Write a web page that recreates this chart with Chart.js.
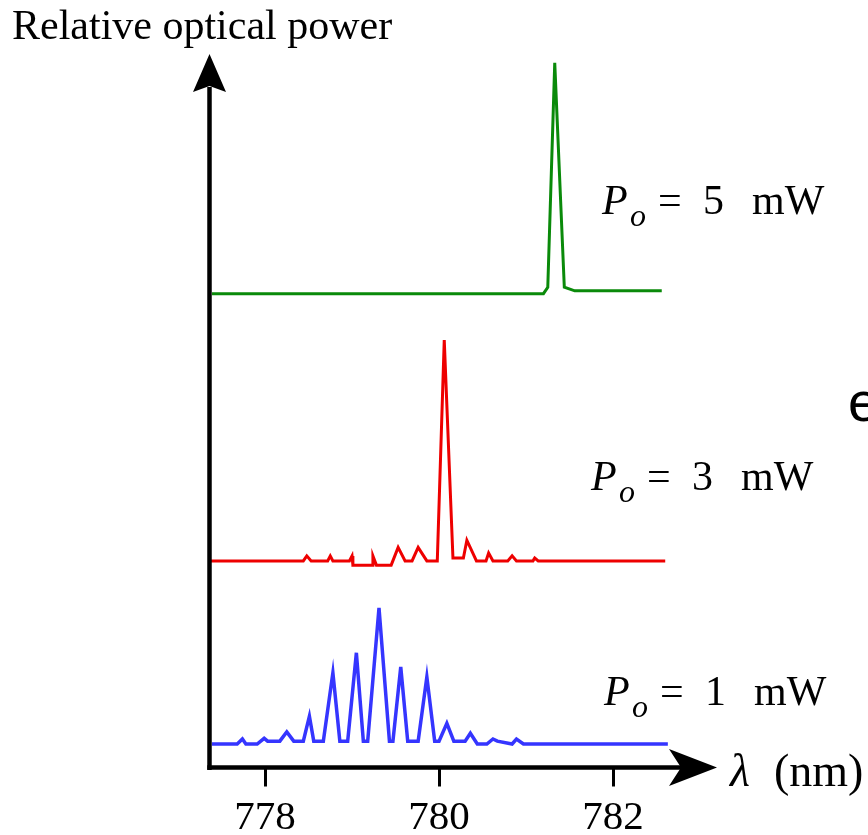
<!DOCTYPE html>
<html>
<head>
<meta charset="utf-8">
<script src="https://cdn.jsdelivr.net/npm/chart.js@4.4.1/dist/chart.umd.min.js"></script>
<style>
  html, body { margin: 0; padding: 0; background: #fff; }
  #wrap { width: 868px; height: 835px; position: relative; }
</style>
</head>
<body>
<div id="wrap"><canvas id="c" width="868" height="835"></canvas></div>
<script>
// Wavelength ticks (nm)
const tickValues = [778, 780, 782];

// P_o = 5 mW (green)
const greenWl  = [777.39, 781.20, 781.25, 781.33, 781.44, 781.56, 782.56];
const greenPow = [66.5, 66.5, 67.4, 98.9, 67.4, 66.9, 66.9];

// P_o = 3 mW (red)
const redWl  = [777.37, 778.44, 778.48, 778.53, 778.72, 778.75, 778.78, 778.97, 779.00, 779.01, 779.23, 779.24, 779.28, 779.45, 779.53, 779.61, 779.69, 779.76, 779.86, 779.98, 780.06, 780.16, 780.28, 780.32, 780.43, 780.54, 780.57, 780.62, 780.79, 780.84, 780.89, 781.08, 781.10, 781.14, 782.60];
const redPow = [29.0, 29.0, 29.7, 29.0, 29.0, 29.7, 29.0, 29.0, 29.7, 28.4, 28.4, 29.7, 28.4, 28.4, 30.9, 29.0, 29.0, 30.9, 29.0, 29.0, 60.0, 29.4, 29.4, 31.9, 29.0, 29.0, 30.1, 29.0, 29.0, 29.7, 29.0, 29.0, 29.4, 29.0, 29.0];

// P_o = 1 mW (blue)
const blueWl  = [777.39, 777.68, 777.74, 777.78, 777.91, 777.99, 778.03, 778.17, 778.25, 778.33, 778.44, 778.51, 778.56, 778.67, 778.78, 778.86, 778.95, 779.05, 779.13, 779.18, 779.31, 779.43, 779.47, 779.56, 779.64, 779.76, 779.86, 779.95, 780.00, 780.09, 780.17, 780.30, 780.36, 780.44, 780.55, 780.62, 780.67, 780.84, 780.89, 780.97, 782.63];
const bluePow = [3.3, 3.3, 4.0, 3.3, 3.3, 4.1, 3.7, 3.7, 5.0, 3.7, 3.7, 7.2, 3.7, 3.7, 13.3, 3.7, 3.7, 16.1, 3.7, 3.7, 22.4, 3.7, 3.7, 14.1, 3.7, 3.7, 12.7, 3.7, 3.7, 6.2, 3.7, 3.7, 4.8, 3.3, 3.3, 4.0, 3.7, 3.3, 4.0, 3.3, 3.3];

const seriesLabels = ['5', '3', '1'];

const toPts = (xs, ys) => xs.map((x, i) => ({ x: x, y: ys[i] }));

const SERIF = '"Liberation Serif", "Times New Roman", serif';

const decorPlugin = {
  id: 'decor',
  afterDraw(chart) {
    const ctx = chart.ctx;
    const a = chart.chartArea;
    ctx.save();
    ctx.fillStyle = '#000';
    ctx.strokeStyle = '#000';
    // y axis with arrow
    const ax = a.left + 0.5;
    ctx.lineWidth = 4.5;
    ctx.beginPath();
    ctx.moveTo(ax, a.bottom + 2.5);
    ctx.lineTo(ax, a.top + 32);
    ctx.stroke();
    ctx.beginPath();
    ctx.moveTo(ax, a.top - 1);
    ctx.lineTo(ax + 16.5, a.top + 37);
    ctx.lineTo(ax, a.top + 31);
    ctx.lineTo(ax - 16.5, a.top + 37);
    ctx.closePath();
    ctx.fill();
    // x axis with arrow
    const ay = a.bottom;
    ctx.beginPath();
    ctx.moveTo(ax - 2.2, ay);
    ctx.lineTo(a.right - 34, ay);
    ctx.stroke();
    ctx.beginPath();
    ctx.moveTo(a.right, ay);
    ctx.lineTo(a.right - 48, ay - 18.5);
    ctx.lineTo(a.right - 36, ay);
    ctx.lineTo(a.right - 48, ay + 18.5);
    ctx.closePath();
    ctx.fill();

    // axis titles
    ctx.textBaseline = 'alphabetic';
    ctx.textAlign = 'left';
    ctx.font = '42px ' + SERIF;
    ctx.fillText('Relative optical power', 12, 39);
    ctx.font = 'italic 46px ' + SERIF;
    ctx.fillText('\u03bb', 730, 786);
    ctx.font = '46px ' + SERIF;
    ctx.fillText('(nm)', 774, 786);

    // series labels
    const labelPos = [
      { x: 602, y: 214 },
      { x: 591, y: 490 },
      { x: 604, y: 705 }
    ];
    seriesLabels.forEach((v, i) => {
      const p = labelPos[i];
      ctx.font = 'italic 42px ' + SERIF;
      ctx.fillText('P', p.x, p.y);
      ctx.font = 'italic 32px ' + SERIF;
      ctx.fillText('o', p.x + 28, p.y + 12);
      ctx.font = '42px ' + SERIF;
      ctx.fillText('=', p.x + 56, p.y);
      ctx.fillText(v, p.x + 101, p.y);
      ctx.fillText('mW', p.x + 150, p.y);
    });

    // clipped letter at right edge
    ctx.font = '56px "Liberation Sans", Arial, sans-serif';
    ctx.fillText('e', 848, 421);
    ctx.restore();
  }
};

new Chart(document.getElementById('c'), {
  type: 'line',
  data: {
    datasets: [
      { label: 'Po = 5 mW', data: toPts(greenWl, greenPow), borderColor: '#0a8a0a', borderWidth: 3 },
      { label: 'Po = 3 mW', data: toPts(redWl, redPow), borderColor: '#ee0000', borderWidth: 3 },
      { label: 'Po = 1 mW', data: toPts(blueWl, bluePow), borderColor: '#3535ff', borderWidth: 3.5 }
    ]
  },
  options: {
    responsive: false,
    animation: false,
    devicePixelRatio: 1,
    elements: { point: { radius: 0 }, line: { tension: 0, borderJoinStyle: 'miter' } },
    layout: { padding: { left: 209, right: 151, top: 55, bottom: 0 } },
    plugins: { legend: { display: false }, tooltip: { enabled: false } },
    scales: {
      x: {
        type: 'linear',
        min: 777.356,
        max: 783.195,
        afterBuildTicks(scale) { scale.ticks = tickValues.map(v => ({ value: v })); },
        afterFit(scale) { scale.height = 67.5; },
        border: { display: false },
        grid: { drawOnChartArea: false, drawTicks: true, tickLength: 19, tickWidth: 3, tickColor: '#000', color: '#000' },
        ticks: {
          color: '#000',
          font: { family: SERIF, size: 41 },
          padding: 7,
          maxRotation: 0,
          autoSkip: false,
          callback: (v) => String(v)
        }
      },
      y: {
        display: false,
        min: 0,
        max: 100
      }
    }
  },
  plugins: [decorPlugin]
});
</script>
</body>
</html>
